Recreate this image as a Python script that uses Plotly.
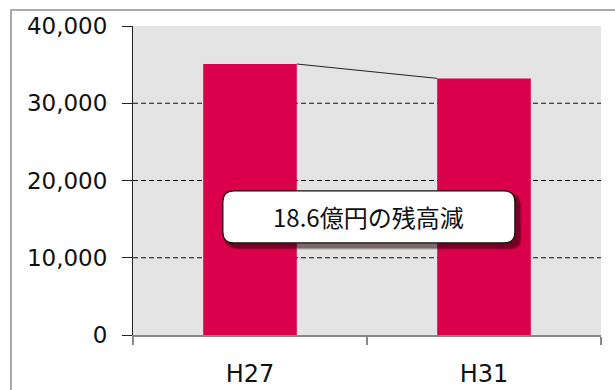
import plotly.graph_objects as go

categories = ["H27", "H31"]
balances = [35080, 33220]
y_ticks = [0, 10000, 20000, 30000, 40000]
grid_vals = [10000, 20000, 30000]
note_text = "18.6億円の残高減"

bar_w = 0.4
xs = list(range(len(categories)))

fig = go.Figure()
fig.add_trace(go.Bar(x=xs, y=balances, width=bar_w, marker=dict(color="#DB004B", line=dict(width=0)),
                     hoverinfo="skip"))
# connector line between bar tops
fig.add_trace(go.Scatter(x=[xs[0] + bar_w / 2, xs[1] - bar_w / 2], y=[balances[0], balances[1]],
                         mode="lines", line=dict(color="#222222", width=1), hoverinfo="skip"))

shapes = []
for g in grid_vals:
    shapes.append(dict(type="line", xref="paper", x0=0, x1=1, yref="y", y0=g, y1=g,
                       line=dict(color="#111111", width=1, dash="5px,3px"), layer="below"))

# outer frame
shapes.append(dict(type="rect", xref="paper", yref="paper", x0=-0.2607, x1=1.05, y0=-0.3, y1=1.0518,
                   line=dict(color="#AAAAAA", width=2), fillcolor="rgba(0,0,0,0)", layer="below"))


def rounded(w, h, r, dx=0, dy=0):
    x0, x1 = -w / 2 + dx, w / 2 + dx
    y0, y1 = -h / 2 + dy, h / 2 + dy
    return (f"M {x0 + r},{y0} L {x1 - r},{y0} Q {x1},{y0} {x1},{y0 + r} "
            f"L {x1},{y1 - r} Q {x1},{y1} {x1 - r},{y1} L {x0 + r},{y1} "
            f"Q {x0},{y1} {x0},{y1 - r} L {x0},{y0 + r} Q {x0},{y0} {x0 + r},{y0} Z")


ax, ay = 0.504, 0.382
for i, (off, op) in enumerate([(8, 0.08), (7, 0.11), (6, 0.14), (5, 0.18), (4, 0.22)]):
    shapes.append(dict(type="path", xref="paper", yref="paper", xsizemode="pixel", ysizemode="pixel",
                       xanchor=ax, yanchor=ay, path=rounded(292 + (8 - off), 52 + (8 - off), 11, off - 1, -off + 1),
                       fillcolor=f"rgba(40,0,10,{op})", line=dict(width=0)))
shapes.append(dict(type="path", xref="paper", yref="paper", xsizemode="pixel", ysizemode="pixel",
                   xanchor=ax, yanchor=ay, path=rounded(292, 52, 11),
                   fillcolor="white", line=dict(color="#111111", width=1.2)))

fig.update_layout(
    width=615, height=390,
    margin=dict(l=133, r=14, t=26, b=55, autoexpand=False),
    paper_bgcolor="white", plot_bgcolor="#E4E4E4",
    showlegend=False,
    shapes=shapes,
    annotations=[dict(xref="paper", yref="paper", x=ax, y=ay, text=note_text, showarrow=False,
                      font=dict(family="Noto Sans CJK JP", size=24, color="#111111"))],
    xaxis=dict(range=[-0.5, 1.5], tickmode="array", tickvals=xs, ticktext=categories, ticks="",
               showgrid=False, zeroline=False, showline=True, linecolor="#888888", linewidth=1.5,
               automargin=False,
               tickfont=dict(family="DejaVu Sans", size=24, color="#111111"), ticklabelstandoff=16,
               minor=dict(tickmode="array", tickvals=[-0.5, 0.5, 1.5], ticks="outside", ticklen=8,
                          tickcolor="#888888", tickwidth=1.5, showgrid=False)),
    yaxis=dict(range=[0, 40000], tickmode="array", tickvals=y_ticks, tickformat=",", ticks="outside",
               ticklen=10, tickcolor="#222222", showgrid=False, zeroline=False, showline=True,
               linecolor="#222222", linewidth=1, ticklabelstandoff=10, automargin=False,
               tickfont=dict(family="DejaVu Sans", size=23, color="#111111")),
)

fig.write_html("out.html")
